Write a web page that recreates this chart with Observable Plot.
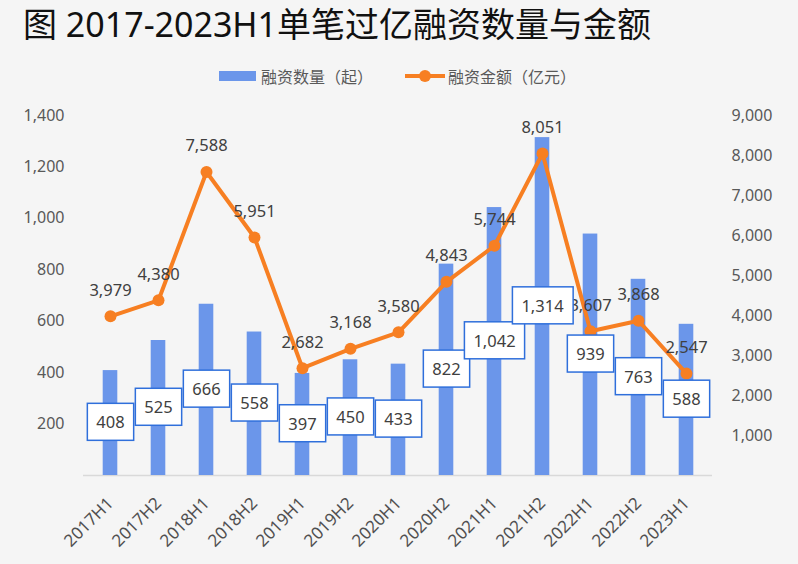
<!DOCTYPE html>
<html>
<head>
<meta charset="utf-8">
<script src="https://cdn.jsdelivr.net/npm/d3@7"></script>
<script src="https://cdn.jsdelivr.net/npm/@observablehq/plot@0.6"></script>
<style>
  html, body { margin: 0; padding: 0; background: #f5f5f5; }
  #wrap { position: relative; width: 798px; height: 564px; background: #f5f5f5; overflow: hidden;
          font-family: "Noto Sans", "Noto Sans CJK SC", sans-serif; }
  #title { position: absolute; left: 23px; top: 7px; font-size: 34px; line-height: 1; color: #111; white-space: nowrap; }
  .leg { position: absolute; top: 68px; font-size: 16px; line-height: 1; color: #595959; white-space: nowrap; font-family: "Noto Sans CJK SC", sans-serif; }
  #chart { position: absolute; left: 0; top: 95px; }
</style>
</head>
<body>
<div id="wrap">
  <div id="title">图 2017-2023H1单笔过亿融资数量与金额</div>
  <div class="leg" style="left:219px;">
    <svg width="40" height="16" style="vertical-align:top"><rect x="0" y="3" width="37" height="10" fill="#6b96ea"></rect></svg><span style="position:relative;left:2px;">融资数量（起）</span>
  </div>
  <div class="leg" style="left:405px;">
    <svg width="42" height="16" style="vertical-align:top"><line x1="0" x2="40" y1="8" y2="8" stroke="#f77f22" stroke-width="4"></line><circle cx="20" cy="8" r="6" fill="#f77f22"></circle></svg><span style="position:relative;left:1px;">融资金额（亿元）</span>
  </div>
  <div id="chart"></div>
</div>
<script>
const periods = ["2017H1","2017H2","2018H1","2018H2","2019H1","2019H2","2020H1","2020H2","2021H1","2021H2","2022H1","2022H2","2023H1"];
const counts  = [408, 525, 666, 558, 397, 450, 433, 822, 1042, 1314, 939, 763, 588];
const amounts = [3979, 4380, 7588, 5951, 2682, 3168, 3580, 4843, 5744, 8051, 3607, 3868, 2547];
const leftTicks  = [200, 400, 600, 800, 1000, 1200, 1400];
const rightTicks = [1000, 2000, 3000, 4000, 5000, 6000, 7000, 8000, 9000];
const leftMax = 1400, rightMax = 9000;

const ratio = leftMax / rightMax;
const data = periods.map((p, i) => ({period: p, count: counts[i], amount: amounts[i]}));
const fmt = d3.format(",");

const BLUE = "#6b96ea", ORANGE = "#f77f22";

const chart = Plot.plot({
  width: 798,
  height: 469,
  marginTop: 20,
  marginBottom: 89,
  marginLeft: 83,
  marginRight: 86,
  style: {background: "transparent", fontFamily: "'Noto Sans', 'Noto Sans CJK SC', sans-serif", fontSize: "16px", color: "#595959"},
  x: {domain: periods, padding: 0, label: null},
  y: {domain: [0, leftMax], label: null},
  marks: [
    Plot.ruleY([0], {stroke: "#d9d9d9", strokeWidth: 1.5}),
    Plot.barY(data, {x: "period", y: "count", fill: BLUE, insetLeft: 16.7, insetRight: 16.7}),
    Plot.line(data, {x: "period", y: d => d.amount * ratio, stroke: ORANGE, strokeWidth: 4}),
    Plot.dot(data, {x: "period", y: d => d.amount * ratio, r: 6, fill: ORANGE}),
    Plot.text(data, {x: "period", y: d => d.amount * ratio, text: d => fmt(d.amount), dy: -26, fill: "#404040", fontSize: 16.5}),
    Plot.text(data, {x: "period", y: d => d.count / 2, text: d => fmt(d.count), fill: "#404040", fontSize: 16.5}),
    Plot.axisY(leftTicks, {anchor: "left", tickSize: 0, tickPadding: 19, tickFormat: fmt, label: null, fontSize: 16}),
    Plot.axisY(rightTicks.map(v => v * ratio), {anchor: "right", tickSize: 0, tickPadding: 19, tickFormat: d => fmt(Math.round(d / ratio)), label: null, fontSize: 16}),
    Plot.axisX({tickRotate: -45, tickSize: 0, tickPadding: 25, label: null, fontSize: 17, fill: "#505050"})
  ]
});
document.getElementById("chart").appendChild(chart);

// white boxes with blue border behind the count labels (second text mark)
const textGroups = chart.querySelectorAll('g[aria-label="text"]');
const g = textGroups[1];
if (g) {
  g.querySelectorAll("text").forEach(t => {
    const b = t.getBBox();
    const w = b.width + 18, h = 37;
    const cx = b.x + b.width / 2, cy = b.y + b.height / 2;
    const r = document.createElementNS("http://www.w3.org/2000/svg", "rect");
    r.setAttribute("x", cx - w / 2);
    r.setAttribute("y", cy - h / 2);
    r.setAttribute("width", w);
    r.setAttribute("height", h);
    r.setAttribute("fill", "#ffffff");
    r.setAttribute("stroke", "#2f6fdb");
    r.setAttribute("stroke-width", "1.5");
    const tr = t.getAttribute("transform");
    if (tr) r.setAttribute("transform", tr);
    g.insertBefore(r, t);
  });
}
</script>
</body>
</html>
